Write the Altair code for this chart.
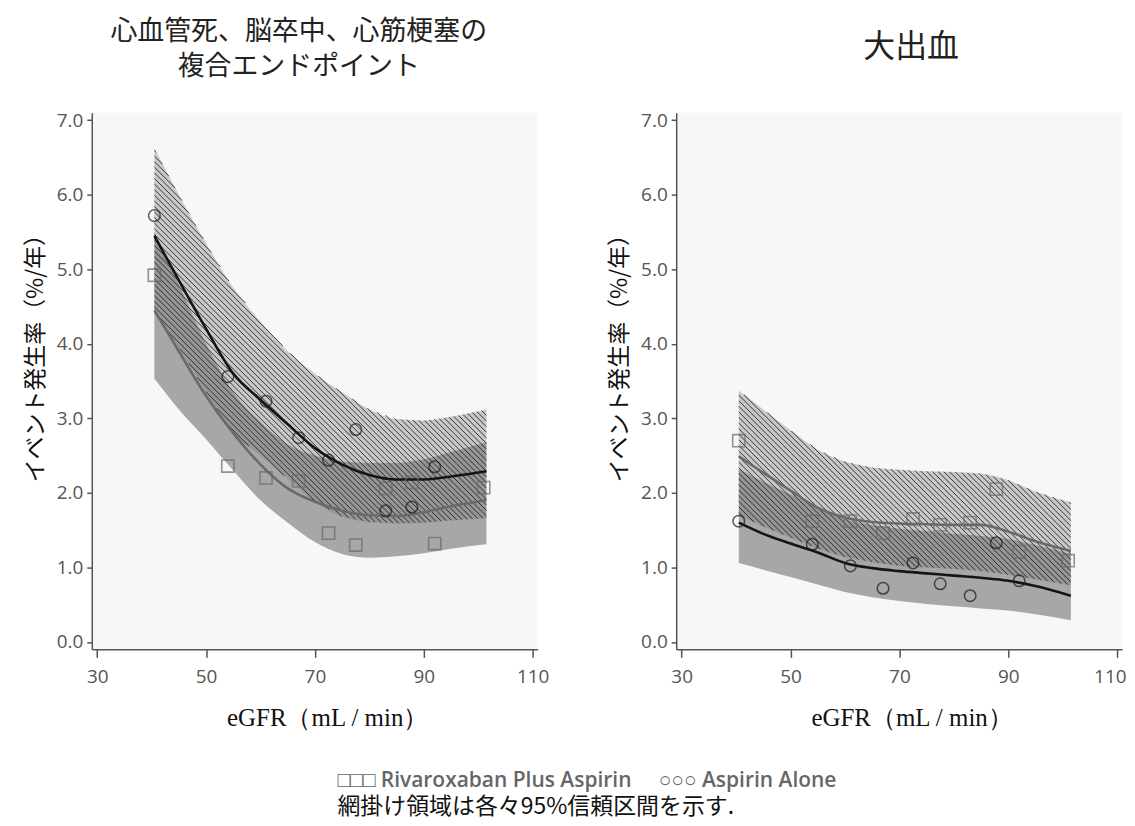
import altair as alt
import pandas as pd
import numpy as np

# ---------------- data ----------------
grid = [40.5, 45, 50, 55, 60, 65, 70, 75, 80, 85, 90, 95, 101.5]

# Panel 1: CV death / stroke / MI composite
cv_asp_line = [5.45, 4.85, 4.2, 3.6, 3.25, 2.92, 2.6, 2.38, 2.24, 2.18, 2.18, 2.22, 2.29]
cv_asp_hi = [6.62, 6.0, 5.35, 4.75, 4.3, 3.9, 3.6, 3.35, 3.12, 2.99, 2.97, 3.02, 3.12]
cv_asp_lo = [4.4, 3.95, 3.35, 2.8, 2.5, 2.19, 1.88, 1.68, 1.61, 1.59, 1.6, 1.63, 1.66]
cv_riv_line = [4.45, 3.9, 3.3, 2.8, 2.38, 2.06, 1.88, 1.76, 1.7, 1.69, 1.74, 1.82, 1.9]
cv_riv_hi = [5.5, 4.8, 4.0, 3.35, 2.95, 2.65, 2.5, 2.42, 2.4, 2.4, 2.45, 2.55, 2.68]
cv_riv_lo = [3.53, 3.12, 2.72, 2.3, 1.9, 1.6, 1.34, 1.18, 1.13, 1.15, 1.19, 1.25, 1.31]

cv_circle_x = [40.5, 54, 61, 67, 72.5, 77.5, 83, 87.8, 92]
cv_circle_y = [5.72, 3.56, 3.23, 2.74, 2.44, 2.85, 1.76, 1.81, 2.35]
cv_square_x = [40.5, 54, 61, 67, 72.5, 77.5, 83, 87.8, 92, 101]
cv_square_y = [4.92, 2.36, 2.2, 2.16, 1.46, 1.3, 2.06, 2.14, 1.32, 2.07]

# Panel 2: major bleeding
bl_riv_line = [2.49, 2.27, 2.03, 1.8, 1.67, 1.61, 1.59, 1.58, 1.57, 1.57, 1.48, 1.35, 1.22]
bl_riv_hi = [3.37, 3.12, 2.84, 2.58, 2.42, 2.34, 2.31, 2.29, 2.28, 2.26, 2.17, 2.02, 1.87]
bl_riv_lo = [1.7, 1.55, 1.4, 1.25, 1.14, 1.07, 1.02, 1.0, 0.98, 0.95, 0.9, 0.84, 0.76]
bl_asp_line = [1.6, 1.45, 1.32, 1.2, 1.06, 0.99, 0.95, 0.92, 0.89, 0.86, 0.82, 0.75, 0.62]
bl_asp_hi = [2.32, 2.15, 1.98, 1.8, 1.65, 1.57, 1.52, 1.49, 1.45, 1.42, 1.38, 1.3, 1.18]
bl_asp_lo = [1.06, 0.97, 0.87, 0.77, 0.67, 0.6, 0.55, 0.51, 0.48, 0.45, 0.42, 0.37, 0.29]

bl_circle_x = [40.5, 54, 61, 67, 72.5, 77.5, 83, 87.8, 92]
bl_circle_y = [1.62, 1.31, 1.02, 0.72, 1.06, 0.78, 0.62, 1.33, 0.82]
bl_square_x = [40.5, 54, 61, 67, 72.5, 77.5, 83, 87.8, 92, 101]
bl_square_y = [2.7, 1.62, 1.62, 1.46, 1.65, 1.57, 1.6, 2.05, 1.21, 1.09]

x_ticks = [30, 50, 70, 90, 110]
y_ticks = [0, 1, 2, 3, 4, 5, 6, 7]

title_cv = ["心血管死、脳卒中、心筋梗塞の", "複合エンドポイント"]
title_bl = "大出血"
y_title = "イベント発生率（%/年）"
x_title = "eGFR（mL / min）"
legend_line = "□□□ Rivaroxaban Plus Aspirin\u00a0\u00a0\u00a0\u00a0\u00a0○○○ Aspirin Alone"
note_line = "網掛け領域は各々95%信頼区間を示す."

# ---------------- layout ----------------
W, H = 447, 538
XDOM = [29.0, 110.9]
YDOM = [-0.1, 7.1]
SX = W / (XDOM[1] - XDOM[0])
SY = H / (YDOM[1] - YDOM[0])

xs = alt.Scale(domain=XDOM, nice=False, zero=False)
ys = alt.Scale(domain=YDOM, nice=False, zero=False)


def hatch_segments(xv, lo, hi, step_px=5.6):
    xv = np.asarray(xv, float)
    lo = np.asarray(lo, float)
    hi = np.asarray(hi, float)
    k = SX / SY
    xf = np.linspace(xv.min(), xv.max(), 1500)
    lof = np.interp(xf, xv, lo)
    hif = np.interp(xf, xv, hi)
    cmin = (lof + k * xf).min()
    cmax = (hif + k * xf).max()
    dc = step_px / SY
    rows = []
    for c in np.arange(cmin + dc / 2, cmax, dc):
        yy = c - k * xf
        inside = (yy >= lof) & (yy <= hif)
        i = 0
        n = len(xf)
        while i < n:
            if inside[i]:
                j = i
                while j + 1 < n and inside[j + 1]:
                    j += 1
                if j > i:
                    rows.append({"x": xf[i], "y": yy[i], "x2": xf[j], "y2": yy[j]})
                i = j + 1
            else:
                i += 1
    return pd.DataFrame(rows)


def panel(title, hatch_lo, hatch_hi, solid_lo, solid_hi, asp_line, riv_line,
          cx, cy, sqx, sqy, title_size, title_dx, title_dy, flush_last):
    band_h = pd.DataFrame({"x": grid, "lo": hatch_lo, "hi": hatch_hi})
    band_s = pd.DataFrame({"x": grid, "lo": solid_lo, "hi": solid_hi})
    lines = pd.DataFrame({
        "x": grid * 2,
        "y": asp_line + riv_line,
        "g": ["asp"] * len(grid) + ["riv"] * len(grid),
    })
    circles = pd.DataFrame({"x": cx, "y": cy})
    squares = pd.DataFrame({"x": sqx, "y": sqy})
    segs = hatch_segments(grid, hatch_lo, hatch_hi)

    if flush_last:
        xax = alt.Axis(values=x_ticks, title=x_title, format="d", titleX=236,
                       labelFlush=5.2, labelFlushOffset=9)
    else:
        xax = alt.Axis(values=x_ticks, title=x_title, format="d", titleX=236)
    yax = alt.Axis(values=y_ticks, title=y_title, format=".1f", titleY=240)

    solid = alt.Chart(band_s).mark_area(color="#787878", opacity=0.63,
                                         interpolate="monotone").encode(
        x=alt.X("x:Q", scale=xs, axis=xax),
        y=alt.Y("lo:Q", scale=ys, axis=yax),
        y2="hi:Q",
    )
    hatched = alt.Chart(band_h).mark_area(color="#787878", opacity=0.37,
                                           interpolate="monotone").encode(
        x=alt.X("x:Q", scale=xs), y=alt.Y("lo:Q", scale=ys), y2="hi:Q"
    )
    hatch = alt.Chart(segs).mark_rule(color="#1e1e1e", strokeWidth=0.85).encode(
        x=alt.X("x:Q", scale=xs), y=alt.Y("y:Q", scale=ys), x2="x2:Q", y2="y2:Q"
    )
    ln = alt.Chart(lines).mark_line(interpolate="monotone", strokeWidth=2.6).encode(
        x=alt.X("x:Q", scale=xs),
        y=alt.Y("y:Q", scale=ys),
        detail="g:N",
        color=alt.Color("g:N", scale=alt.Scale(domain=["asp", "riv"],
                                                range=["#151515", "#6a6a6a"]),
                        legend=None),
    )
    sq = alt.Chart(squares).mark_point(shape="square", size=150, filled=False,
                                       color="#6a6a6a", strokeWidth=1.6).encode(
        x=alt.X("x:Q", scale=xs), y=alt.Y("y:Q", scale=ys)
    )
    ci = alt.Chart(circles).mark_point(shape="circle", size=135, filled=False,
                                       color="#1a1a1a", strokeWidth=1.5).encode(
        x=alt.X("x:Q", scale=xs), y=alt.Y("y:Q", scale=ys)
    )
    return alt.layer(solid, hatched, hatch, ln, sq, ci).properties(
        width=W, height=H,
        title=alt.TitleParams(text=title, fontSize=title_size, font="Noto Sans CJK JP",
                              fontWeight="normal", color="#222222", lineHeight=35,
                              offset=30, anchor="middle", dx=title_dx, dy=title_dy),
    )


left = panel(title_cv, cv_asp_lo, cv_asp_hi, cv_riv_lo, cv_riv_hi,
             cv_asp_line, cv_riv_line, cv_circle_x, cv_circle_y,
             cv_square_x, cv_square_y, 27, -16, 0, False)
right = panel(title_bl, bl_riv_lo, bl_riv_hi, bl_asp_lo, bl_asp_hi,
              bl_asp_line, bl_riv_line, bl_circle_x, bl_circle_y,
              bl_square_x, bl_square_y, 32, 12, -17, True)

chart = alt.hconcat(left, right, spacing=59).properties(
    title=alt.TitleParams(
        text=legend_line, subtitle=note_line, orient="bottom", anchor="start",
        dx=314, offset=40, font="Open Sans", fontSize=21, fontWeight=600,
        color="#666666", subtitleFont="Noto Sans CJK JP", subtitleFontSize=23,
        subtitleColor="#111111", subtitlePadding=5,
    ),
    padding={"left": 16, "top": 9, "right": 0, "bottom": 2},
).configure_view(fill="#f7f7f7", stroke=None).configure_axis(
    grid=False,
    domainColor="#555555", domainWidth=1.5,
    tickColor="#555555", tickWidth=1.5,
    labelColor="#555555", labelFont="Open Sans", labelFontSize=19,
    labelFontWeight=500,
    titleFontWeight="normal", titleColor="#111111",
).configure_axisX(
    tickSize=8, labelPadding=10, titlePadding=19,
    titleFont="Liberation Serif", titleFontSize=25,
).configure_axisY(
    tickSize=5, labelPadding=4, titlePadding=9,
    titleFont="Noto Sans CJK JP", titleFontSize=23,
)

chart.save("out.html", embed_options={"renderer": "svg", "actions": False})
